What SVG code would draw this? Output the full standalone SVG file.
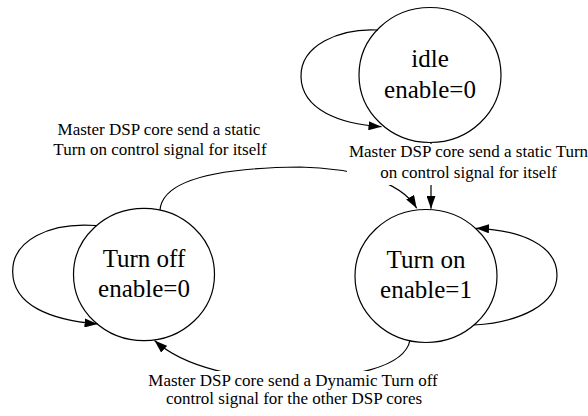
<svg xmlns="http://www.w3.org/2000/svg" width="588" height="416" viewBox="0 0 588 416">
<defs>
<marker id="ah" viewBox="0 0 13 9" refX="13" refY="4.5" markerWidth="13" markerHeight="9" markerUnits="userSpaceOnUse" orient="auto">
<path d="M0,0 L13,4.5 L0,9 z" fill="#000"/>
</marker>
</defs>
<rect width="588" height="416" fill="#fff"/>
<g id="edges" fill="none" stroke="#000" stroke-width="1.2">
<path marker-end="url(#ah)" d="M378,30 C340,28 300,45 301,77 C302,110 340,124 381.5,126.7"/>
<path marker-end="url(#ah)" d="M96,225.5 C50,222 12,240 12.7,272 C13,305 50,320 97.6,324"/>
<path marker-end="url(#ah)" d="M474,325 C520,322 557,305 557,275 C557,245 520,230 476,228.3"/>
<path marker-end="url(#ah)" d="M160,210 C162,185 200,168 300,167 C350,168 400,180 416.7,208.3"/>
<path marker-end="url(#ah)" d="M431,143 L431,208.8"/>
<path marker-end="url(#ah)" d="M410,340 C405,368 350,378 292,379 C240,379 185,368 154.5,340.5"/>
</g>
<g id="labels" font-family="Liberation Serif" font-size="17" text-anchor="middle" fill="#000">
<g id="label-off-on">
<text x="159" y="135">Master DSP core send a static</text>
<text x="160" y="155">Turn on control signal for itself</text>
</g>
<g id="label-idle-on">
<rect x="347" y="144" width="241" height="41" fill="#fff"/>
<text x="468.5" y="157">Master DSP core send a static Turn</text>
<text x="468.5" y="178">on control signal for itself</text>
</g>
<g id="label-on-off">
<rect x="147" y="371" width="292" height="40" fill="#fff"/>
<text x="293" y="386">Master DSP core send a Dynamic Turn off</text>
<text x="294" y="404">control signal for the other DSP cores</text>
</g>
</g>
<g id="nodes" font-family="Liberation Serif" font-size="25" text-anchor="middle">
<g id="node-idle">
<ellipse cx="430" cy="75" rx="71" ry="67.5" fill="none" stroke="#000" stroke-width="1.2"/>
<text x="430" y="67">idle</text>
<text x="430" y="98">enable=0</text>
</g>
<g id="node-turnoff">
<ellipse cx="144" cy="274.5" rx="70.5" ry="66.2" fill="none" stroke="#000" stroke-width="1.2"/>
<text x="144" y="267">Turn off</text>
<text x="144" y="297">enable=0</text>
</g>
<g id="node-turnon">
<ellipse cx="426" cy="276" rx="71" ry="66.5" fill="none" stroke="#000" stroke-width="1.2"/>
<text x="426" y="268">Turn on</text>
<text x="426" y="298">enable=1</text>
</g>
</g>
</svg>
